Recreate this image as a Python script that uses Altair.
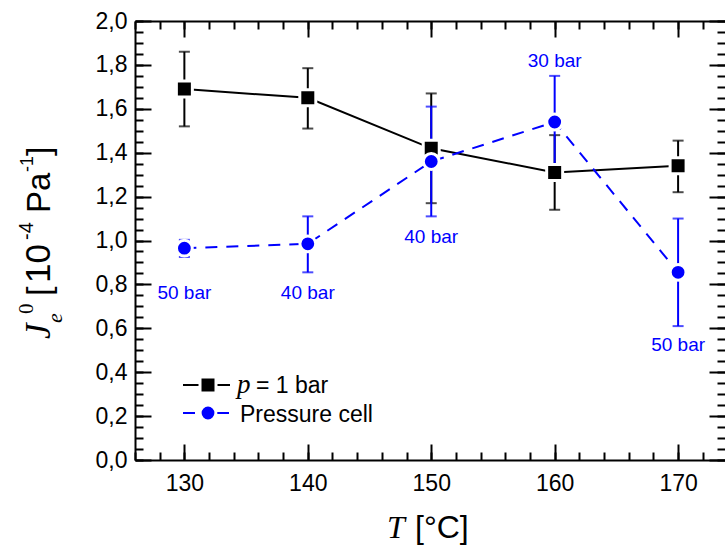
import altair as alt
import pandas as pd

# ---- data ----
T = [130, 140, 150, 160, 170]
J_1bar = [1.69, 1.65, 1.42, 1.31, 1.34]
J_1bar_lo = [1.52, 1.51, 1.17, 1.14, 1.22]
J_1bar_hi = [1.86, 1.785, 1.67, 1.48, 1.455]
J_cell = [0.965, 0.985, 1.36, 1.54, 0.855]
J_cell_lo = [0.925, 0.855, 1.11, 1.33, 0.61]
J_cell_hi = [1.003, 1.11, 1.61, 1.75, 1.10]
cell_labels = ["50 bar", "40 bar", "40 bar", "30 bar", "50 bar"]
cell_label_y = [0.76, 0.76, 1.015, 1.82, 0.525]

x_major = [130, 140, 150, 160, 170]
x_minor = list(range(126, 174, 2))
y_major = [round(i * 0.2, 1) for i in range(11)]
y_minor = [round(i * 0.05, 2) for i in range(41)]

W, H = 590, 439
BLUE = "#0000ff"
SANS = "Liberation Sans"
SERIF = "Liberation Serif"

df = pd.DataFrame({
    "T": T, "J1": J_1bar, "J1lo": J_1bar_lo, "J1hi": J_1bar_hi,
    "Jc": J_cell, "Jclo": J_cell_lo, "Jchi": J_cell_hi,
    "lab": cell_labels, "laby": cell_label_y,
})
one = pd.DataFrame({"k": [0]})

xs = alt.Scale(domain=[126, 173.8], nice=False, zero=False)
ys = alt.Scale(domain=[0, 2], nice=False, zero=False)


def X(f, axis=None):
    return alt.X(f, type="quantitative", scale=xs, axis=axis)


def Y(f, axis=None):
    return alt.Y(f, type="quantitative", scale=ys, axis=axis)


base = alt.Chart(df)

# error bars
eb1 = base.mark_rule(color="black", strokeWidth=2).encode(x=X("T"), y=Y("J1lo"), y2="J1hi")
cap1a = base.mark_tick(color="black", orient="horizontal", size=11, thickness=2).encode(x=X("T"), y=Y("J1lo"))
cap1b = base.mark_tick(color="black", orient="horizontal", size=11, thickness=2).encode(x=X("T"), y=Y("J1hi"))
eb2 = base.mark_rule(color=BLUE, strokeWidth=2).encode(x=X("T"), y=Y("Jclo"), y2="Jchi")
cap2a = base.mark_tick(color=BLUE, orient="horizontal", size=11, thickness=2).encode(x=X("T"), y=Y("Jclo"))
cap2b = base.mark_tick(color=BLUE, orient="horizontal", size=11, thickness=2).encode(x=X("T"), y=Y("Jchi"))

line1 = base.mark_line(color="black", strokeWidth=2).encode(x=X("T"), y=Y("J1"))
pts1 = base.mark_point(shape="square", filled=True, fill="black", stroke="white",
                       strokeWidth=3, size=256, opacity=1).encode(x=X("T"), y=Y("J1"))
line2 = base.mark_line(color=BLUE, strokeWidth=2, strokeDash=[12, 9]).encode(x=X("T"), y=Y("Jc"))
pts2 = base.mark_point(shape="circle", filled=True, fill=BLUE, stroke="white",
                       strokeWidth=3, size=250, opacity=1).encode(x=X("T"), y=Y("Jc"))
labels = base.mark_text(color=BLUE, font=SANS, fontSize=19, baseline="middle").encode(
    x=X("T"), y=Y("laby"), text="lab")


# axes
def ax(**kw):
    d = dict(grid=False, title=None, tickColor="black", tickWidth=2,
             domainColor="black", domainWidth=2)
    d.update(kw)
    return alt.Axis(**d)


lbl_x = ax(orient="bottom", values=x_major, ticks=False, tickSize=0, domain=False,
           labelFont=SANS, labelFontSize=23, labelColor="black", labelPadding=30,
           labelBaseline="alphabetic", labelOverlap=False)
lbl_y = ax(orient="left", values=y_major, ticks=False, tickSize=0, domain=False,
           labelFont=SANS, labelFontSize=23, labelColor="black", labelPadding=8,
           labelBaseline="middle", labelOverlap=False,
           labelExpr="replace(format(datum.value, '.1f'), '.', ',')")
xbot_maj = ax(orient="top", offset=-H, values=x_major, tickSize=16, labels=False, domain=True)
xbot_min = ax(orient="top", offset=-H, values=x_minor, tickSize=8, labels=False, domain=False)
xtop_maj = ax(orient="bottom", offset=-H, values=x_major, tickSize=16, labels=False, domain=True)
xtop_min = ax(orient="bottom", offset=-H, values=x_minor, tickSize=8, labels=False, domain=False)
yl_maj = ax(orient="right", offset=-W, values=y_major, tickSize=16, labels=False, domain=True)
yl_min = ax(orient="right", offset=-W, values=y_minor, tickSize=8, labels=False, domain=False)
yr_maj = ax(orient="left", offset=-W, values=y_major, tickSize=16, labels=False, domain=False)
yr_min = ax(orient="left", offset=-W, values=y_minor, tickSize=8, labels=False, domain=False)


def axis_layer(xa, ya):
    return base.mark_point(opacity=0).encode(x=X("T", xa), y=Y("J1", ya))


axes = [axis_layer(lbl_x, lbl_y), axis_layer(xbot_maj, yl_maj), axis_layer(xbot_min, yl_min),
        axis_layer(xtop_maj, yr_maj), axis_layer(xtop_min, yr_min)]

# legend (drawn)
c1 = alt.Chart(one)
leg = [
    c1.mark_rule(color="black", strokeWidth=2).encode(x=alt.value(48), x2=alt.value(95), y=alt.value(364)),
    c1.mark_point(shape="square", filled=True, fill="black", stroke="white", strokeWidth=3,
                  size=256, opacity=1).encode(x=alt.value(73), y=alt.value(364)),
    c1.mark_rule(color=BLUE, strokeWidth=2, strokeDash=[12, 22]).encode(
        x=alt.value(48), x2=alt.value(95), y=alt.value(392)),
    c1.mark_point(shape="circle", filled=True, fill=BLUE, stroke="white", strokeWidth=3,
                  size=250, opacity=1).encode(x=alt.value(73), y=alt.value(392)),
    c1.mark_text(text="p", font=SERIF, fontStyle="italic", fontSize=27, align="left",
                 baseline="alphabetic", color="black").encode(x=alt.value(102), y=alt.value(372)),
    c1.mark_text(text="= 1 bar", font=SANS, fontSize=23, align="left",
                 baseline="alphabetic", color="black").encode(x=alt.value(121), y=alt.value(372)),
    c1.mark_text(text="Pressure cell", font=SANS, fontSize=23, align="left",
                 baseline="alphabetic", color="black").encode(x=alt.value(105), y=alt.value(401)),
]


# axis titles (drawn as text pieces)
def txt(s, x, y, font=SANS, size=33, style="normal", angle=0):
    kw = dict(text=s, font=font, fontSize=size, fontStyle=style, align="left",
              baseline="alphabetic", color="black")
    if angle:
        kw["angle"] = angle
    return c1.mark_text(**kw).encode(x=alt.value(x), y=alt.value(y))


titles = [
    txt("T", 252, 517, font=SERIF, size=32, style="italic"),
    txt("[°C]", 280, 517, size=32),
    txt("J", -85, 318, font=SERIF, size=35, style="italic", angle=270),
    txt("e", -73, 302, font=SERIF, size=22, style="italic", angle=270),
    txt("0", -102, 293, font=SERIF, size=21, angle=270),
    txt("[", -85, 275, size=34, angle=270),
    txt("10", -85, 262, size=35, angle=270),
    txt("-4", -102, 219, size=20, angle=270),
    txt("Pa", -85, 192, size=33, angle=270),
    txt("-1", -102, 151, size=18, angle=270),
    txt("]", -85, 135, size=34, angle=270),
]

chart = alt.layer(
    eb1, cap1a, cap1b, eb2, cap2a, cap2b, line1, pts1, line2, pts2, labels,
    *axes, *leg, *titles
).resolve_scale(x="independent", y="independent").properties(
    width=W, height=H,
    autosize=alt.AutoSizeParams(type="none"),
    padding={"left": 135, "top": 21, "right": 0, "bottom": 92},
).configure_view(strokeWidth=0)

chart.save("out.html", embed_options={"renderer": "svg", "actions": False})
